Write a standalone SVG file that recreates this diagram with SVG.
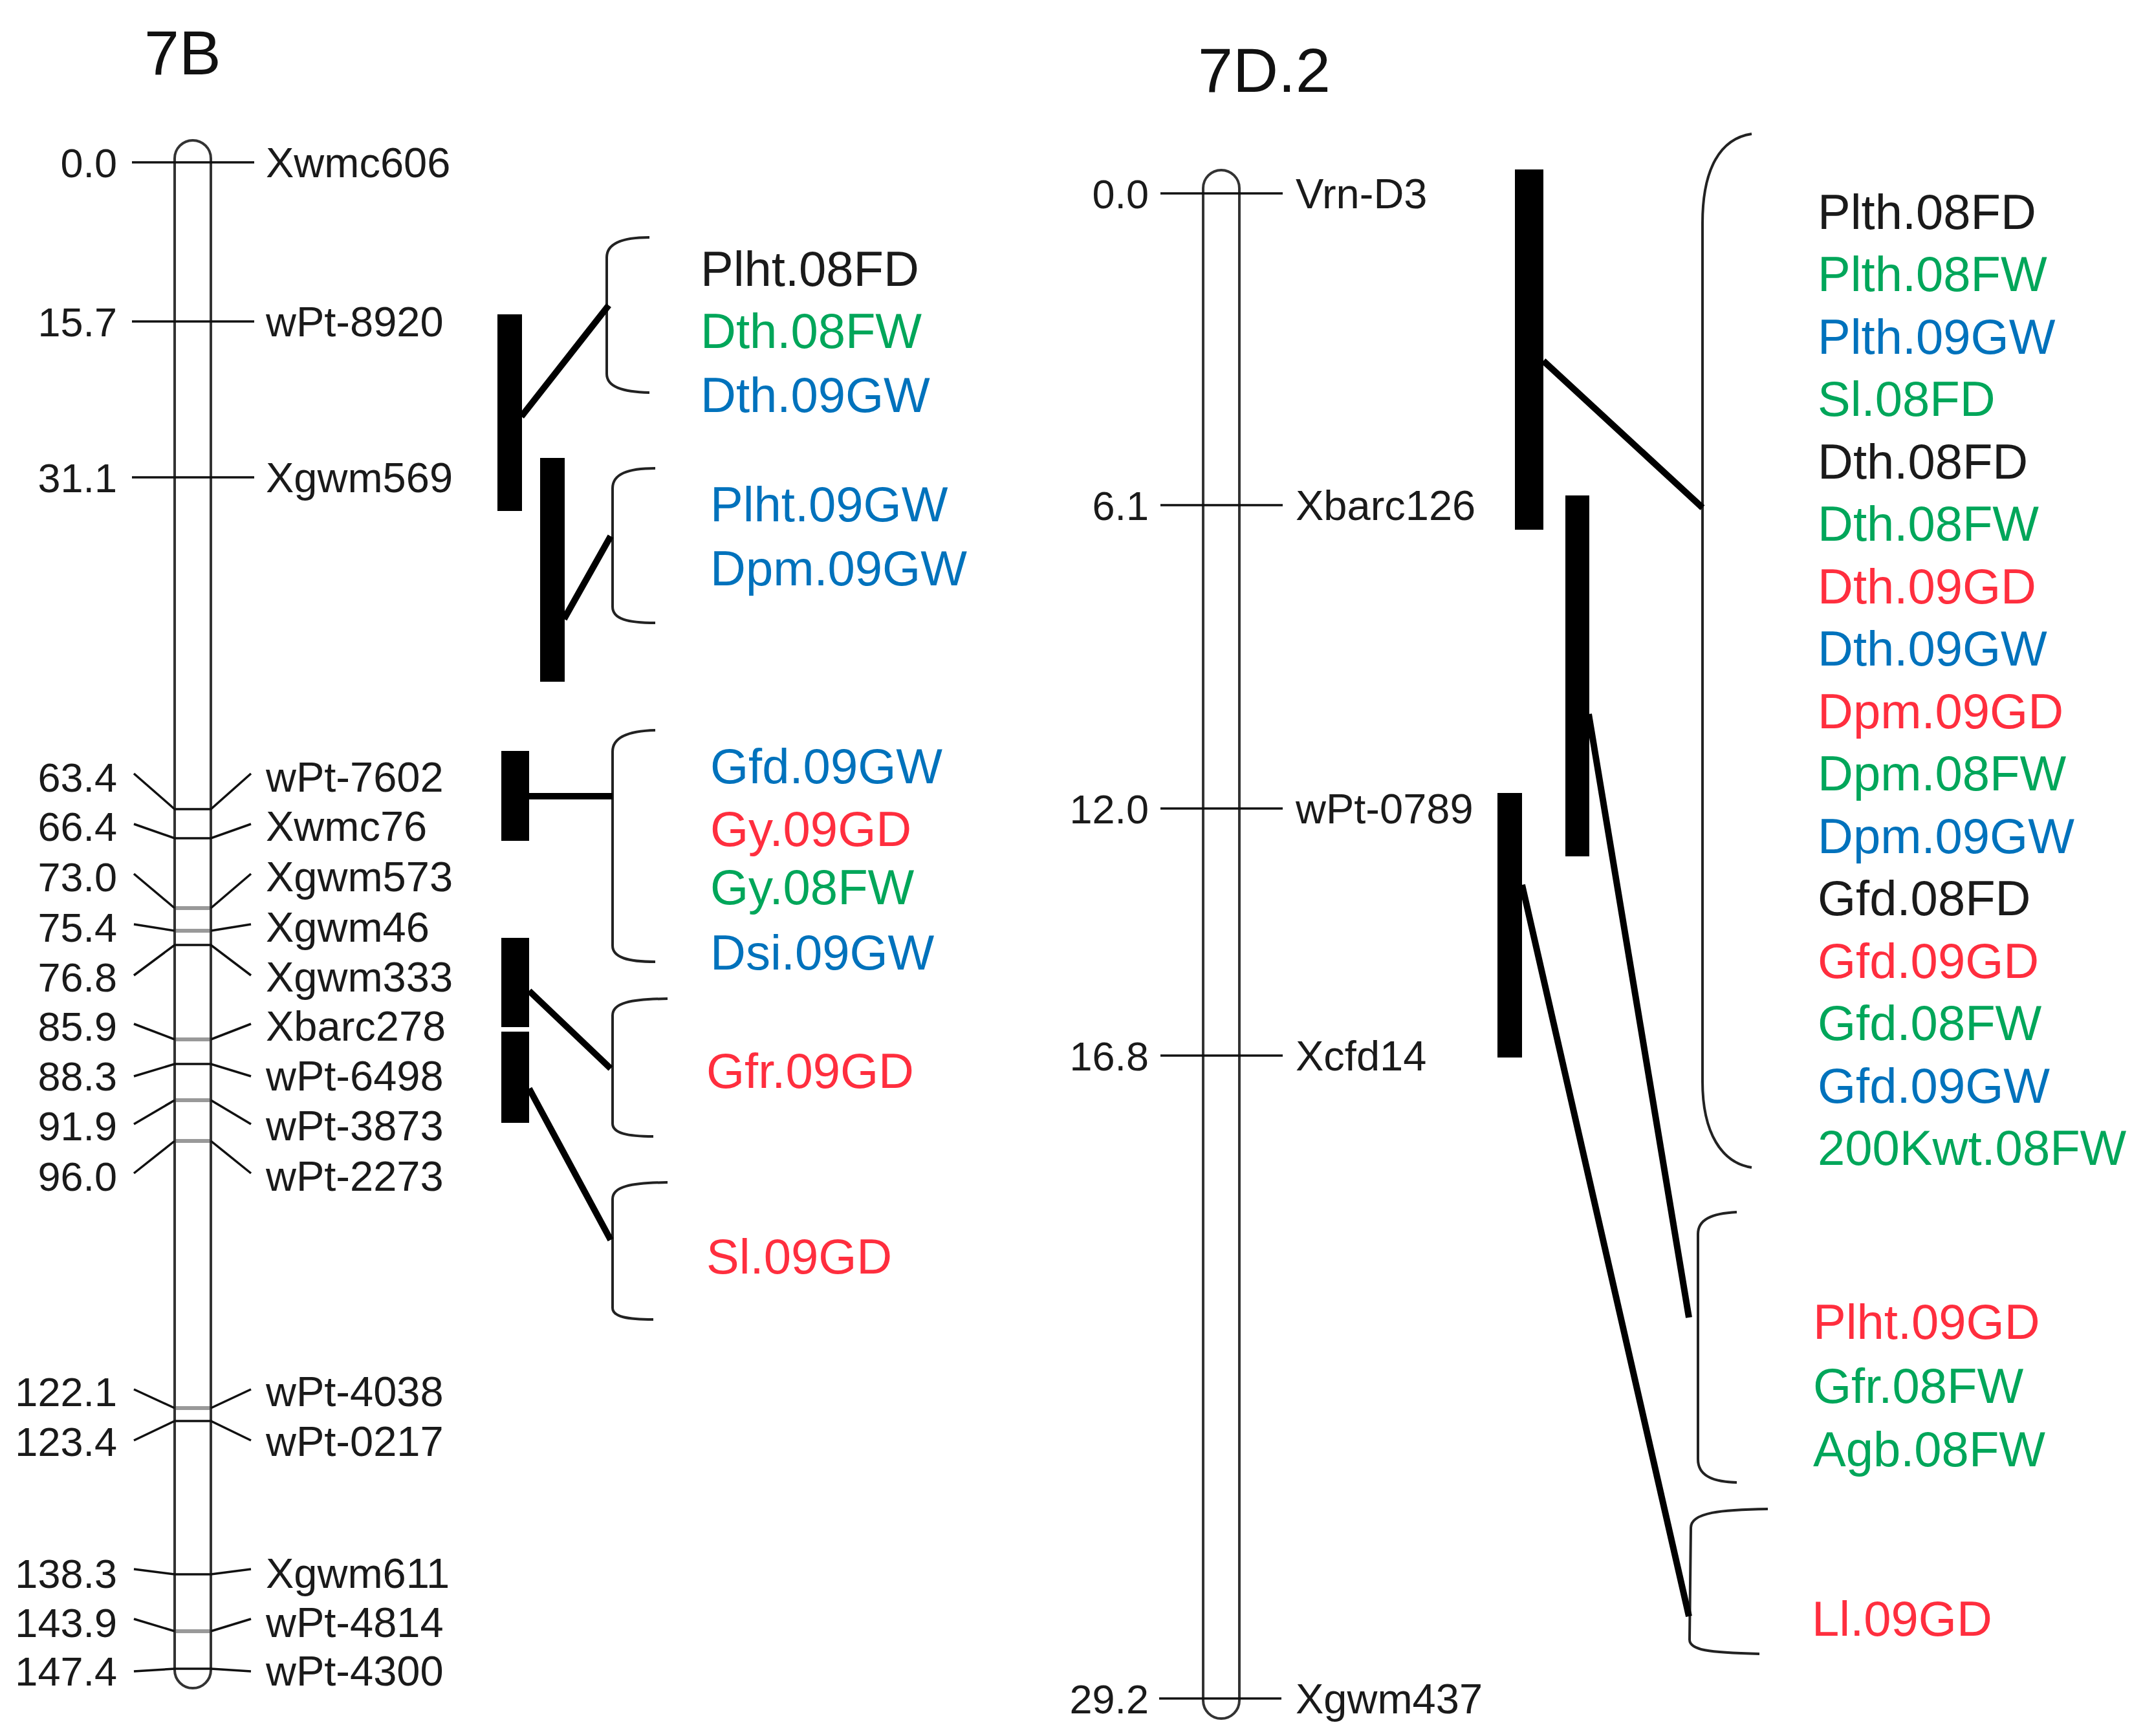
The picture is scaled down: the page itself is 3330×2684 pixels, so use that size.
<svg xmlns="http://www.w3.org/2000/svg" width="3330" height="2684" viewBox="0 0 3330 2684">
<style>
text{font-family:"Liberation Sans",Arial,sans-serif}
.title{font-size:97px;fill:#111}
.num{font-size:63px;fill:#1a1a1a;text-anchor:end}
.mk{font-size:65px;fill:#1a1a1a}
.q{font-size:76px}
.k{fill:#1a1a1a}.g{fill:#00A65A}.b{fill:#0072BC}.r{fill:#FF2E3E}
.chr{fill:#fff;stroke:#333;stroke-width:4}
.ml{stroke:#111;stroke-width:3.5;fill:none}
.mg{stroke:#999;stroke-width:6}
.bar{fill:#000}
.br{fill:none;stroke:#222;stroke-width:4}
.cn{stroke:#000;stroke-width:10;fill:none}
</style>
<rect width="3330" height="2684" fill="#fff"/>

<g id="chr7B">
<text class="title" x="223" y="115">7B</text>
<rect class="chr" x="270" y="217" width="56" height="2393" rx="28"/>
<g id="markers7B">
<line class="ml" x1="204" y1="251" x2="393" y2="251"/>
<text class="num" x="181" y="274">0.0</text><text class="mk" x="411" y="274">Xwmc606</text>
<line class="ml" x1="204" y1="497" x2="393" y2="497"/>
<text class="num" x="181" y="520">15.7</text><text class="mk" x="411" y="520">wPt-8920</text>
<line class="ml" x1="204" y1="738" x2="393" y2="738"/>
<text class="num" x="181" y="761">31.1</text><text class="mk" x="411" y="761">Xgwm569</text>

<polyline class="ml" points="207,1196 270,1251 326,1251 388,1196"/>
<text class="num" x="181" y="1224">63.4</text><text class="mk" x="411" y="1224">wPt-7602</text>
<polyline class="ml" points="207,1274 270,1296 326,1296 388,1274"/>
<text class="num" x="181" y="1300">66.4</text><text class="mk" x="411" y="1300">Xwmc76</text>
<polyline class="ml" points="207,1351 270,1404"/><polyline class="ml" points="326,1404 388,1351"/>
<line class="mg" x1="272" y1="1404" x2="324" y2="1404"/>
<text class="num" x="181" y="1378">73.0</text><text class="mk" x="411" y="1378">Xgwm573</text>
<polyline class="ml" points="207,1429 270,1439"/><polyline class="ml" points="326,1439 388,1429"/>
<line class="mg" x1="272" y1="1439" x2="324" y2="1439"/>
<text class="num" x="181" y="1456">75.4</text><text class="mk" x="411" y="1456">Xgwm46</text>
<polyline class="ml" points="207,1508 270,1461 326,1461 388,1508"/>
<text class="num" x="181" y="1533">76.8</text><text class="mk" x="411" y="1533">Xgwm333</text>
<polyline class="ml" points="207,1583 270,1607"/><polyline class="ml" points="326,1607 388,1583"/>
<line class="mg" x1="272" y1="1607" x2="324" y2="1607"/>
<text class="num" x="181" y="1609">85.9</text><text class="mk" x="411" y="1609">Xbarc278</text>
<polyline class="ml" points="207,1664 270,1645 326,1645 388,1664"/>
<text class="num" x="181" y="1686">88.3</text><text class="mk" x="411" y="1686">wPt-6498</text>
<polyline class="ml" points="207,1738 270,1701"/><polyline class="ml" points="326,1701 388,1738"/>
<line class="mg" x1="272" y1="1701" x2="324" y2="1701"/>
<text class="num" x="181" y="1763">91.9</text><text class="mk" x="411" y="1763">wPt-3873</text>
<polyline class="ml" points="207,1814 270,1764"/><polyline class="ml" points="326,1764 388,1814"/>
<line class="mg" x1="272" y1="1764" x2="324" y2="1764"/>
<text class="num" x="181" y="1841">96.0</text><text class="mk" x="411" y="1841">wPt-2273</text>

<polyline class="ml" points="207,2148 270,2177"/><polyline class="ml" points="326,2177 388,2148"/>
<line class="mg" x1="272" y1="2177" x2="324" y2="2177"/>
<text class="num" x="181" y="2174">122.1</text><text class="mk" x="411" y="2174">wPt-4038</text>
<polyline class="ml" points="207,2227 270,2197 326,2197 388,2227"/>
<text class="num" x="181" y="2251">123.4</text><text class="mk" x="411" y="2251">wPt-0217</text>
<polyline class="ml" points="207,2426 270,2434 326,2434 388,2426"/>
<text class="num" x="181" y="2455">138.3</text><text class="mk" x="411" y="2455">Xgwm611</text>
<polyline class="ml" points="207,2503 270,2522"/><polyline class="ml" points="326,2522 388,2503"/>
<line class="mg" x1="272" y1="2522" x2="324" y2="2522"/>
<text class="num" x="181" y="2531">143.9</text><text class="mk" x="411" y="2531">wPt-4814</text>
<polyline class="ml" points="207,2584 270,2580 326,2580 388,2584"/>
<text class="num" x="181" y="2606">147.4</text><text class="mk" x="411" y="2606">wPt-4300</text>
</g>
</g>

<g id="qtl7B">
<rect class="bar" x="769" y="486" width="38" height="304"/>
<rect class="bar" x="835" y="708" width="38" height="346"/>
<rect class="bar" x="775" y="1161" width="43" height="139"/>
<rect class="bar" x="775" y="1450" width="43" height="138"/>
<rect class="bar" x="775" y="1595" width="43" height="141"/>
</g>

<g id="brackets7B">
<path class="br" d="M1004,367 C962,367 938,376 938,398 L938,578 C938,598 962,606 1004,607"/>
<path class="br" d="M1013,724 C970,724 947,733 947,755 L947,938 C947,957 970,963 1013,963"/>
<path class="br" d="M1013,1129 C970,1130 947,1140 947,1162 L947,1462 C947,1480 970,1487 1013,1487"/>
<path class="br" d="M1032,1544 C975,1545 947,1550 947,1570 L947,1737 C947,1752 970,1757 1010,1757"/>
<path class="br" d="M1032,1828 C975,1829 947,1834 947,1854 L947,2022 C947,2036 970,2040 1010,2040"/>
</g>

<g id="labels7B">
<text class="q k" x="1083" y="442">Plht.08FD</text>
<text class="q g" x="1083" y="538">Dth.08FW</text>
<text class="q b" x="1083" y="637">Dth.09GW</text>
<text class="q b" x="1098" y="806">Plht.09GW</text>
<text class="q b" x="1098" y="905">Dpm.09GW</text>
<text class="q b" x="1098" y="1211">Gfd.09GW</text>
<text class="q r" x="1098" y="1308">Gy.09GD</text>
<text class="q g" x="1098" y="1398">Gy.08FW</text>
<text class="q b" x="1098" y="1499">Dsi.09GW</text>
<text class="q r" x="1092" y="1682">Gfr.09GD</text>
<text class="q r" x="1092" y="1969">Sl.09GD</text>
</g>

<g id="chr7D2">
<text class="title" x="1852" y="142">7D.2</text>
<rect class="chr" x="1860" y="263" width="56" height="2394" rx="28"/>
<g id="markers7D2">
<line class="ml" x1="1794" y1="299" x2="1983" y2="299"/>
<text class="num" x="1776" y="322">0.0</text><text class="mk" x="2003" y="322">Vrn-D3</text>
<line class="ml" x1="1794" y1="781" x2="1983" y2="781"/>
<text class="num" x="1776" y="804">6.1</text><text class="mk" x="2003" y="804">Xbarc126</text>
<line class="ml" x1="1794" y1="1250" x2="1983" y2="1250"/>
<text class="num" x="1776" y="1273">12.0</text><text class="mk" x="2003" y="1273">wPt-0789</text>
<line class="ml" x1="1794" y1="1632" x2="1983" y2="1632"/>
<text class="num" x="1776" y="1655">16.8</text><text class="mk" x="2003" y="1655">Xcfd14</text>
<line class="ml" x1="1792" y1="2626" x2="1981" y2="2626"/>
<text class="num" x="1776" y="2649">29.2</text><text class="mk" x="2003" y="2649">Xgwm437</text>
</g>
</g>

<g id="qtl7D2">
<rect class="bar" x="2342" y="262" width="44" height="557"/>
<rect class="bar" x="2420" y="766" width="37" height="558"/>
<rect class="bar" x="2315" y="1226" width="38" height="409"/>
</g>

<g id="brackets7D2">
<path class="br" d="M2708,207 C2660,214 2632,260 2632,345 L2632,1672 C2632,1752 2662,1798 2708,1805"/>
<path class="br" d="M2685,1874 C2645,1876 2625,1886 2625,1908 L2625,2256 C2625,2280 2645,2291 2685,2292"/>
<path class="br" d="M2733,2333 C2662,2334 2614,2338 2614,2362 L2612,2535 C2612,2551 2640,2555 2720,2557"/>
</g>

<g id="labels7D2">
<text class="q k" x="2810" y="354">Plth.08FD</text>
<text class="q g" x="2810" y="450">Plth.08FW</text>
<text class="q b" x="2810" y="547">Plth.09GW</text>
<text class="q g" x="2810" y="643">Sl.08FD</text>
<text class="q k" x="2810" y="740">Dth.08FD</text>
<text class="q g" x="2810" y="836">Dth.08FW</text>
<text class="q r" x="2810" y="933">Dth.09GD</text>
<text class="q b" x="2810" y="1029">Dth.09GW</text>
<text class="q r" x="2810" y="1126">Dpm.09GD</text>
<text class="q g" x="2810" y="1222">Dpm.08FW</text>
<text class="q b" x="2810" y="1319">Dpm.09GW</text>
<text class="q k" x="2810" y="1415">Gfd.08FD</text>
<text class="q r" x="2810" y="1512">Gfd.09GD</text>
<text class="q g" x="2810" y="1608">Gfd.08FW</text>
<text class="q b" x="2810" y="1705">Gfd.09GW</text>
<text class="q g" x="2810" y="1801">200Kwt.08FW</text>
<text class="q r" x="2803" y="2070">Plht.09GD</text>
<text class="q g" x="2803" y="2169">Gfr.08FW</text>
<text class="q g" x="2803" y="2267">Agb.08FW</text>
<text class="q r" x="2801" y="2529">Ll.09GD</text>
</g>

<g id="connectors">
<line class="cn" x1="806" y1="644" x2="941" y2="472"/>
<line class="cn" x1="872" y1="957" x2="944" y2="829"/>
<line class="cn" x1="818" y1="1231" x2="947" y2="1231"/>
<line class="cn" x1="818" y1="1532" x2="944" y2="1652"/>
<line class="cn" x1="818" y1="1683" x2="944" y2="1917"/>
<line class="cn" x1="2386" y1="558" x2="2632" y2="785"/>
<line class="cn" x1="2456" y1="1104" x2="2611" y2="2037"/>
<line class="cn" x1="2353" y1="1368" x2="2611" y2="2499"/>
</g>
</svg>
